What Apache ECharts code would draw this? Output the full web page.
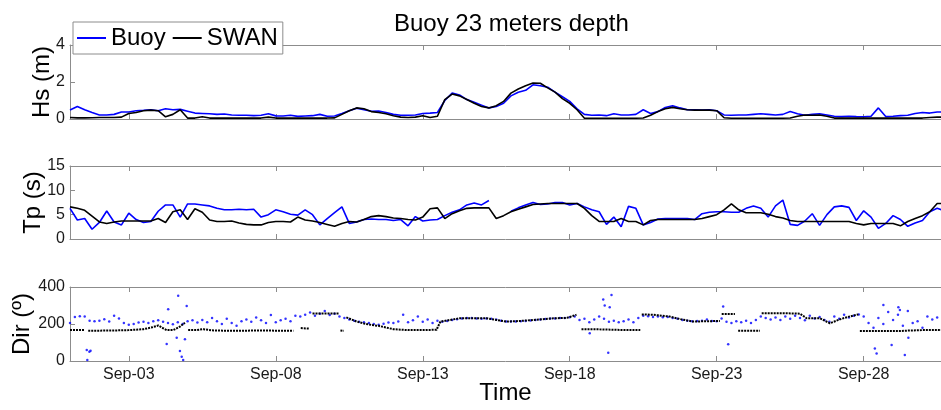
<!DOCTYPE html>
<html><head><meta charset="utf-8">
<script src="https://cdn.jsdelivr.net/npm/echarts@6/dist/echarts.min.js"></script>
<style>html,body{margin:0;padding:0;background:#fff}#c{width:941px;height:410px}</style>
</head><body><div id="c"></div>
<script>
// x values are fractional days of September (1.0 = Sep-01 00:00)
const tickDays = [3, 8, 13, 18, 23, 28];
const tickLabels = ['Sep-03', 'Sep-08', 'Sep-13', 'Sep-18', 'Sep-23', 'Sep-28'];
const lineStartDay = 1, lineStepDays = 0.25;      // 6-hourly samples
const dirStartDay = 1, dirStepDays = 1 / 6;       // 4-hourly samples

const hsBuoy = [0.49,0.68,0.5,0.35,0.22,0.22,0.25,0.38,0.38,0.45,
 0.47,0.5,0.45,0.55,0.5,0.52,0.42,0.32,0.3,0.28,
 0.25,0.27,0.22,0.2,0.2,0.18,0.2,0.28,0.17,0.16,
 0.2,0.14,0.16,0.18,0.25,0.15,0.16,0.3,0.45,0.58,
 0.5,0.42,0.43,0.35,0.25,0.2,0.2,0.22,0.3,0.32,
 0.35,1.0,1.4,1.3,1.05,0.9,0.75,0.6,0.68,0.85,
 1.25,1.45,1.55,1.85,1.8,1.72,1.45,1.2,0.95,0.55,
 0.25,0.2,0.22,0.18,0.28,0.22,0.22,0.25,0.5,0.3,
 0.4,0.62,0.72,0.6,0.5,0.5,0.48,0.5,0.45,0.22,
 0.2,0.22,0.22,0.25,0.28,0.25,0.22,0.25,0.4,0.28,
 0.2,0.25,0.28,0.22,0.15,0.13,0.15,0.13,0.12,0.15,
 0.6,0.13,0.15,0.18,0.2,0.3,0.35,0.32,0.38,0.38];
const hsSwan = [0.08,0.06,0.06,0.07,0.08,0.08,0.08,0.1,0.3,0.35,
 0.45,0.48,0.45,0.12,0.25,0.5,0.05,0.05,0.12,0.05,
 0.05,0.05,0.05,0.05,0.05,0.05,0.05,0.1,0.05,0.05,
 0.05,0.05,0.05,0.05,0.05,0.05,0.06,0.25,0.45,0.6,
 0.55,0.4,0.35,0.28,0.18,0.1,0.08,0.1,0.18,0.08,
 0.15,1.05,1.35,1.25,1.05,0.85,0.68,0.6,0.72,0.95,
 1.4,1.62,1.8,1.95,1.93,1.68,1.45,1.1,0.85,0.5,
 0.04,0.04,0.04,0.04,0.04,0.04,0.04,0.04,0.05,0.2,
 0.4,0.55,0.63,0.55,0.5,0.48,0.48,0.48,0.45,0.07,
 0.04,0.04,0.04,0.04,0.04,0.04,0.04,0.04,0.05,0.15,
 0.22,0.2,0.22,0.15,0.05,0.05,0.05,0.05,0.05,0.05,
 0.05,0.05,0.05,0.05,0.05,0.05,0.05,0.08,0.1,0.1];
const tpBuoy = [6.3,3.9,4.2,2.0,3.4,5.75,3.5,2.9,5.3,4.0,
 3.4,3.6,5.7,7.0,7.0,4.5,7.2,7.2,7.0,6.8,
 6.3,6.0,6.0,6.1,6.0,6.1,4.5,5.0,6.0,5.6,
 5.1,4.9,6.0,5.0,2.9,4.2,5.4,6.6,3.2,3.5,
 4.0,4.1,4.0,4.0,3.8,4.0,2.7,4.6,3.7,3.9,
 4.0,4.8,5.5,6.0,7.0,7.4,7.0,7.9,null,null,
 5.7,6.4,7.0,7.5,7.1,7.2,7.5,7.5,7.0,7.3,
 6.6,6.0,5.6,3.0,4.5,2.5,6.7,6.3,2.9,3.4,
 4.1,4.2,4.2,4.2,4.2,4.0,5.2,5.5,5.6,5.6,
 5.5,5.5,6.3,6.8,6.3,4.5,6.8,8.0,3.0,2.8,
 3.7,5.2,2.8,5.0,6.6,6.8,6.5,3.8,5.8,4.5,
 2.2,3.2,4.8,4.0,2.6,3.3,3.8,5.6,6.3,5.8];
const tpSwan = [6.6,6.3,5.9,4.7,3.5,3.2,3.5,3.7,3.7,3.7,
 3.7,3.7,4.2,3.4,5.6,6.0,4.0,6.2,5.5,3.9,
 3.6,3.6,3.7,3.3,3.0,2.9,2.9,3.4,3.6,3.6,
 3.5,4.5,3.9,3.7,3.4,3.0,2.6,3.2,3.6,3.5,
 4.0,4.6,4.8,4.6,4.3,4.2,4.0,3.9,4.5,6.2,
 6.4,4.2,5.2,5.8,6.3,6.4,6.4,6.4,4.2,4.8,
 5.6,6.1,6.6,7.1,7.2,7.3,7.3,7.3,7.3,7.3,
 6.3,4.8,3.6,3.6,3.6,4.2,3.6,3.6,2.9,3.8,
 4.0,4.0,4.0,4.0,4.0,4.0,4.2,4.6,5.0,6.0,
 7.2,6.0,5.4,5.4,5.4,5.1,4.6,4.3,3.8,3.6,
 3.6,3.6,3.6,3.6,3.6,3.6,3.6,3.2,2.9,3.2,
 3.2,3.2,3.2,2.7,3.6,4.2,4.8,5.6,7.3,7.3];
const dirBuoy = [205,238,242,240,218,215, 218,226,213,245,230,205,
 196,200,208,212,205,215, 220,212,205,198,210,200,
 215,220,208,222,210,232, 215,200,228,205,190,215,
 225,212,235,220,205,248, 210,220,228,215,245,240,
 250,262,245,255,270,248, 255,240,232,225,218,212,
 210,205,200,196,202,208, 206,214,250,210,220,240,
 212,225,205,218,212,216, 222,226,230,232,233,230,
 228,230,228,224,218,214, 213,214,215,216,219,222,
 224,227,230,230,233,232, 236,240,222,228,210,225,
 240,228,212,218,210,215, 225,210,232,245,242,238,
 240,236,238,232,228,222, 218,215,216,218,225,216,
 215,230,212,205,215,210, 218,205,222,240,232,225,
 235,222,240,228,245,232, 220,245,230,238,222,212,
 240,228,250,235,245,252, 240,205,180,232,200,265,
 222,250,190,270,205,215, 180,240,225,235,230];
const dirBuoyOutT = [1.57,1.59,1.66,1.70,4.29,4.34,4.63,4.68,4.74,4.80,4.85,4.91,4.97,
 18.68,19.14,19.19,19.31,19.36,19.42,23.22,23.39,28.38,28.44,28.67,28.95,29.18,29.23,29.4,29.52];
const dirBuoyOutV = [60,5,50,55,92,280,126,353,54,23,5,117,297,
 150,333,300,45,290,357,294,90,68,41,303,86,290,276,32,126];
const dirSwanT = [1.0,1.5,1.56, 1.62,2.0,2.5,3.0,3.5,3.8,4.0,4.06,4.17,4.29,4.51,4.74,4.91,4.96,
 5.02,5.3,5.54,5.8,6.2,7.0,7.5,8.0,8.6,8.7, 8.85,9.15,9.2, 9.25,10.15,10.18, 10.2,10.32,10.36,
 10.4,10.75,11.0,11.25,11.5,12.0,12.5,13.0,13.47,13.6,14.26,15.17,15.5,15.85,16.3,16.76,17.44,17.9,18.23,18.3,
 18.4,19.0,19.7,20.4,20.42, 20.45,20.84,21.41,21.8,22.2,22.6,23.11,23.14, 23.17,23.62,23.68,
 23.73,24.47,24.5, 24.53,25.3,25.83,26.06,26.51,26.85,27.19,27.5,27.82,27.85, 27.87,28.5,29.2,29.6,30.0,30.63];
const dirSwanV = [167,167,null, 164,164,165,167,172,182,192,195,177,167,167,186,207,null,
 167,167,172,166,164,164,165,164,164,null, 178,175,null, 257,257,null, 165,163,null,
 236,213,203,195,190,172,167,167,169,213,231,231,222,213,216,222,231,233,250,null,
 171,171,168,167,null, 252,250,240,225,213,215,216,null, 254,254,null,
 164,164,null, 258,258,256,231,231,204,225,240,252,null, 162,162,162,165,167,167];

const FONT = "'Liberation Sans', Arial, Helvetica, sans-serif";
const BLUE = '#0000ff', BLACK = '#000000', AX = '#8c8c8c';
const XMIN = 1, XMAX = 30.63;

const reg = (arr, s, st) => arr.map((v, i) => [s + i * st, v == null ? '-' : v]);
const pairs = (t, v) => t.map((x, i) => [x, v[i] == null ? '-' : v[i]]);

function xAx(grid, pos, labels, name) {
  return {
    type: 'value', gridIndex: grid, position: pos, min: XMIN, max: XMAX,
    axisLine: { show: true, onZero: false, lineStyle: { color: AX, width: 1 } },
    axisTick: { show: true, inside: true, length: 5, customValues: tickDays, lineStyle: { color: AX } },
    axisLabel: { show: labels, customValues: tickDays, margin: 6, fontSize: 16, color: '#1a1a1a', fontFamily: FONT,
      formatter: v => tickLabels[tickDays.indexOf(Math.round(v))] },
    splitLine: { show: false },
    name: name || '', nameLocation: 'middle', nameGap: 20, nameMoveOverlap: false,
    nameTextStyle: { fontSize: 24, color: '#000', fontFamily: FONT }
  };
}
function yAx(grid, max, interval, name, gap) {
  return {
    type: 'value', gridIndex: grid, min: 0, max: max, interval: interval,
    axisLine: { show: true, lineStyle: { color: AX, width: 1 } },
    axisTick: { show: true, inside: true, length: 5, lineStyle: { color: AX } },
    axisLabel: { margin: 5, fontSize: 16, color: '#1a1a1a', fontFamily: FONT },
    splitLine: { show: false },
    name: name, nameLocation: 'middle', nameRotate: 90, nameGap: gap, nameMoveOverlap: false,
    nameTextStyle: { fontSize: 24, color: '#000', fontFamily: FONT }
  };
}
function line(name, xi, yi, data, color) {
  return { name, type: 'line', xAxisIndex: xi, yAxisIndex: yi, data, showSymbol: false, symbol: 'none',
    lineStyle: { color, width: 1.6 }, itemStyle: { color }, connectNulls: false, clip: true, animation: false };
}

const chart = echarts.init(document.getElementById('c'), null, { renderer: 'canvas' });
chart.setOption({
  backgroundColor: '#fff',
  animation: false,
  title: { text: 'Buoy 23 meters depth', left: 389, top: 7,
    textStyle: { fontSize: 24, fontWeight: 'normal', color: '#000', fontFamily: FONT } },
  legend: {
    data: ['Buoy', 'SWAN'], left: 73, top: 22, icon: 'rect', itemWidth: 29, itemHeight: 2, itemGap: 7,
    padding: [2, 5, 2, 4], borderColor: AX, borderWidth: 1, backgroundColor: '#fff',
    textStyle: { fontSize: 24, color: '#000', fontFamily: FONT, lineHeight: 28 }, z: 10
  },
  grid: [
    { left: 70, right: 0, top: 45, height: 74 },
    { left: 70, right: 0, top: 166, height: 73 },
    { left: 70, right: 0, top: 287, height: 74 }
  ],
  xAxis: [
    xAx(0, 'bottom', false), xAx(0, 'top', false),
    xAx(1, 'bottom', false), xAx(1, 'top', false),
    xAx(2, 'bottom', true, 'Time'), xAx(2, 'top', false)
  ],
  yAxis: [ yAx(0, 4, 2, 'Hs (m)', 16), yAx(1, 15, 5, 'Tp (s)', 25), yAx(2, 400, 200, 'Dir (º)', 36) ],
  series: [
    line('Buoy', 0, 0, reg(hsBuoy, lineStartDay, lineStepDays), BLUE),
    line('SWAN', 0, 0, reg(hsSwan, lineStartDay, lineStepDays), BLACK),
    line('Buoy', 2, 1, reg(tpBuoy, lineStartDay, lineStepDays), BLUE),
    line('SWAN', 2, 1, reg(tpSwan, lineStartDay, lineStepDays), BLACK),
    { name: 'SWAN', type: 'line', xAxisIndex: 4, yAxisIndex: 2, data: pairs(dirSwanT, dirSwanV),
      showSymbol: false, symbol: 'none', lineStyle: { color: BLACK, width: 2, type: [2, 1] }, clip: true },
    { name: 'Buoy', type: 'scatter', xAxisIndex: 4, yAxisIndex: 2, data: reg(dirBuoy, dirStartDay, dirStepDays),
      symbolSize: 2.5, itemStyle: { color: BLUE }, clip: true },
    { name: 'Buoy', type: 'scatter', xAxisIndex: 4, yAxisIndex: 2, data: pairs(dirBuoyOutT, dirBuoyOutV),
      symbolSize: 2.5, itemStyle: { color: BLUE }, clip: true }
  ]
});
</script></body></html>
